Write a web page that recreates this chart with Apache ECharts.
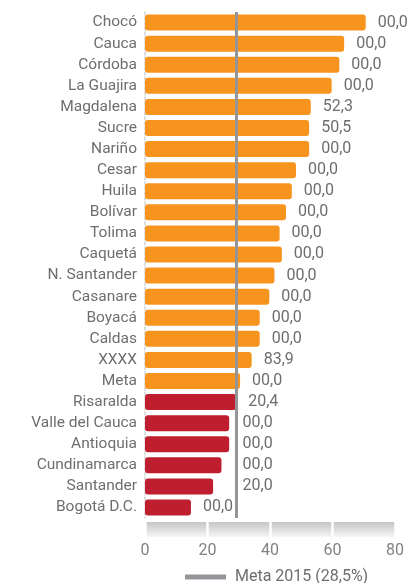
<!DOCTYPE html>
<html>
<head>
<meta charset="utf-8">
<script src="https://cdn.jsdelivr.net/npm/echarts@6/dist/echarts.min.js"></script>
<style>
  html, body { margin: 0; padding: 0; background: #fff; }
  #chart { width: 407px; height: 583px; }
</style>
</head>
<body>
<div id="chart"></div>
<script>
const departments = ['Chocó', 'Cauca', 'Córdoba', 'La Guajira', 'Magdalena', 'Sucre', 'Nariño', 'Cesar',
  'Huila', 'Bolívar', 'Tolima', 'Caquetá', 'N. Santander', 'Casanare', 'Boyacá', 'Caldas', 'XXXX', 'Meta',
  'Risaralda', 'Valle del Cauca', 'Antioquia', 'Cundinamarca', 'Santander', 'Bogotá D.C.']
const values = [68.7, 62.0, 60.5, 58.1, 51.6, 51.1, 51.1, 47.0, 45.7, 43.9, 41.9, 42.6, 40.3, 38.7, 35.7, 35.7,
  33.2, 29.6, 28.4, 26.2, 26.2, 23.8, 21.2, 14.3]
const valueLabels = ['00,0', '00,0', '00,0', '00,0', '52,3', '50,5', '00,0', '00,0', '00,0', '00,0', '00,0',
  '00,0', '00,0', '00,0', '00,0', '00,0', '83,9', '00,0', '20,4', '00,0', '00,0', '00,0', '20,0', '00,0']
const xTicks = [0, 20, 40, 60, 80]
const meta = 28.5
const metaName = 'Meta 2015 (28,5%)'

const ORANGE = '#f7941d'
const RED = '#be1e2d'
const GREY = '#939598'
const TEXT = '#6d6e71'
const FONT = 'Roboto'

const gridLeft = 145
const gridRight = 5
const xMax = xTicks[xTicks.length - 1]
const pxPerUnit = (407 - gridLeft - gridRight) / xMax

// push labels of short bars past the goal line unless they fit before it
function labelDistance(v) {
  const end = v * pxPerUnit
  const metaPx = meta * pxPerUnit
  if (v >= meta - 0.3) return 12
  if (end + 12 + 30 <= metaPx - 3) return 12
  return metaPx - end + 6
}

const barData = values.map(v => ({
  value: v,
  itemStyle: { color: v < meta ? RED : ORANGE },
  label: { distance: labelDistance(v) }
}))

const chart = echarts.init(document.getElementById('chart'))

chart.setOption({
  animation: false,
  textStyle: { fontFamily: FONT },
  grid: [
    { left: gridLeft, right: gridRight, top: 12, bottom: 65 },
    {
      left: gridLeft, right: gridRight, top: 522, height: 15, show: true, borderWidth: 0,
      backgroundColor: new echarts.graphic.LinearGradient(0, 0, 0, 1, [
        { offset: 0, color: '#c4c5c7' },
        { offset: 1, color: '#f6f6f6' }
      ])
    }
  ],
  legend: {
    left: 180, top: 564,
    itemWidth: 41, itemHeight: 5,
    icon: 'rect',
    textStyle: { fontSize: 16, color: TEXT, fontFamily: FONT, padding: [0, 0, 0, 4] },
    data: [metaName]
  },
  xAxis: [
    { gridIndex: 0, type: 'value', min: 0, max: xMax, interval: 20, show: false },
    {
      gridIndex: 1, type: 'value', min: 0, max: xMax, interval: 20,
      axisLine: { show: false }, axisTick: { show: false },
      splitLine: { show: true, lineStyle: { color: '#ffffff', width: 2.5 } },
      axisLabel: { color: '#808285', fontSize: 16, fontFamily: FONT, margin: 6 }
    }
  ],
  yAxis: [
    {
      gridIndex: 0, type: 'category', data: departments, inverse: true,
      axisLine: { show: true, lineStyle: { color: '#d4d4d4', width: 1.5, type: [3, 2] } },
      axisTick: { show: false },
      axisLabel: { color: TEXT, fontSize: 15.5, fontFamily: FONT, margin: 8 }
    },
    { gridIndex: 1, type: 'category', data: [''], show: false }
  ],
  series: [
    {
      type: 'bar', xAxisIndex: 0, yAxisIndex: 0,
      barWidth: 16,
      itemStyle: { borderRadius: 3 },
      label: {
        show: true, position: 'right', color: TEXT, fontSize: 16, fontFamily: FONT,
        formatter: p => valueLabels[p.dataIndex]
      },
      data: barData,
      z: 2
    },
    {
      name: metaName, type: 'line', xAxisIndex: 0, yAxisIndex: 0,
      data: [], color: GREY,
      markLine: {
        silent: true, symbol: 'none',
        lineStyle: { color: GREY, width: 3, type: 'solid' },
        label: { show: false },
        data: [{ xAxis: meta }]
      },
      z: 3
    }
  ]
})
</script>
</body>
</html>
